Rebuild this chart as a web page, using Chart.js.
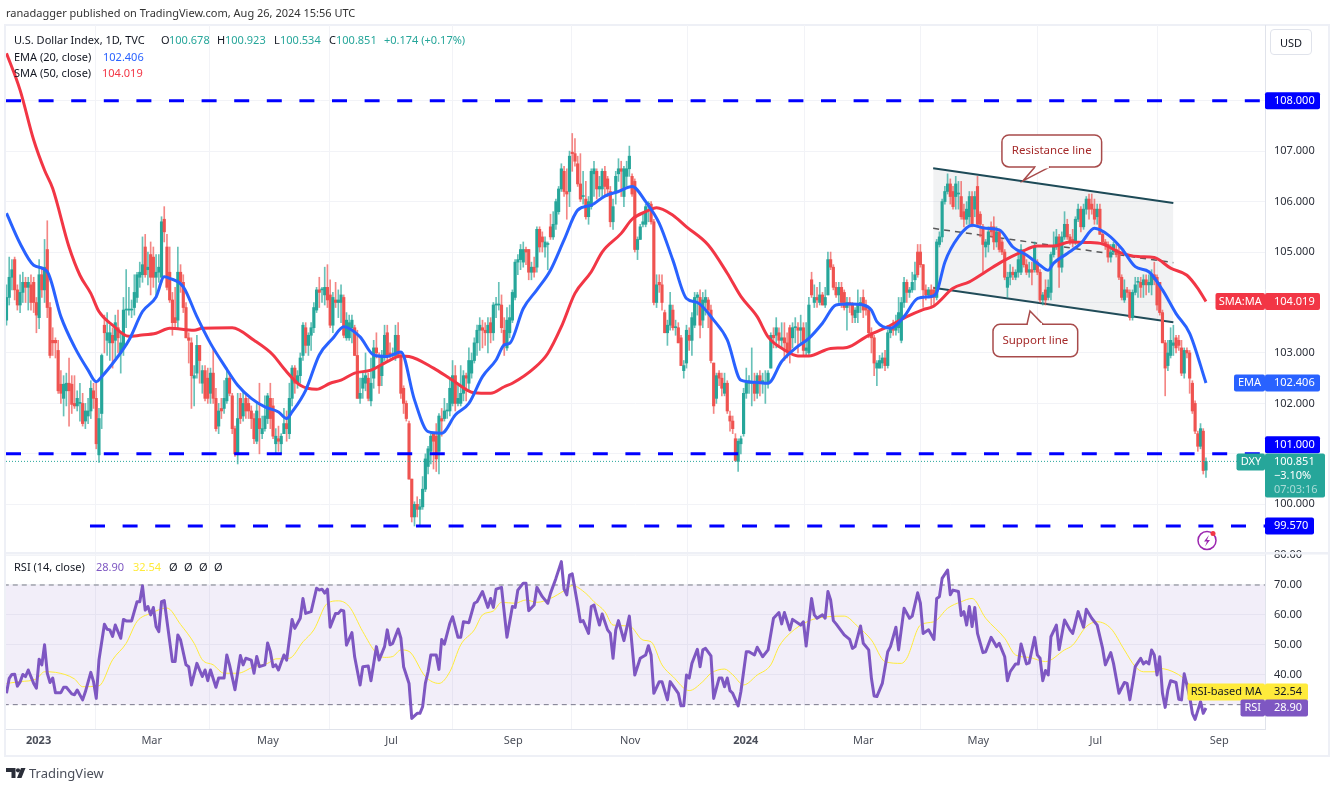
<!DOCTYPE html>
<html>
<head>
<meta charset="utf-8">
<title>U.S. Dollar Index</title>
<script src="https://cdn.jsdelivr.net/npm/chart.js@4/dist/chart.umd.js"></script>
<style>
  html, body { margin: 0; padding: 0; background: #fff; }
  body { width: 1338px; height: 788px; position: relative; overflow: hidden; font-family: "Noto Sans", sans-serif; color: #131722; }
  canvas { position: absolute; left: 0; top: 0; }
  .t { position: absolute; font-size: 11px; line-height: 14px; white-space: nowrap; }
  .usd { position: absolute; left: 1270px; top: 29px; width: 42px; height: 26px; line-height: 26px; border: 1px solid #e0e3eb; border-radius: 4px; text-align: center; font-size: 11px; box-sizing: border-box; }
  svg { position: absolute; left: 0; top: 0; pointer-events: none; }
</style>
</head>
<body>
<canvas id="chart" width="1338" height="788"></canvas>
<div class="t" style="left:6px;top:6px;color:#333">ranadagger published on TradingView.com, Aug 26, 2024 15:56 UTC</div>
<div id="legend"></div>
<div class="usd">USD</div>
<svg width="1338" height="788">
  <path d="M6 768h9.5v10h-4v-6H6z M21 768h4.5l-4 10H17z" fill="#2a2e39"/><circle cx="18" cy="770.3" r="2.1" fill="#2a2e39"/>
  <circle cx="1207" cy="540.5" r="9" fill="#fff" stroke="#9c27b0" stroke-width="1.5"/>
  <path d="M1209 535l-5 6.5h3l-2 5 5-6.5h-3z" fill="#9c27b0"/><circle cx="1213" cy="533.5" r="2.5" fill="#f23645"/>
</svg>
<div class="t" style="left:29px;top:765px;font-size:13px;line-height:16px;color:#4a4e59">TradingView</div>

<script>
// daily candles, bar 0 is mid Dec 2022, bar 441 is Aug 26 2024
const opens = [
  103.65,104.1,104.5,104.85,104.25,103.95,104.2,104.4,104.3,104.35,
  104.4,104,103.7,104.55,104.25,105.05,103.9,103.25,103.25,103.05,
  102.38,102.1,102.25,102.4,102.38,102,101.95,102,102,101.65,
  101.75,101.85,102.25,102.1,100.98,101.8,103.55,103.25,103.2,103.35,
  103.25,103.5,103,103.1,103.85,103.85,103.85,103.9,104.1,104.5,
  104.55,105.1,104.65,104.95,104.9,104.5,104.6,104.5,105.65,105.1,
  104.6,104.05,103.7,103.65,104.6,104.4,103.9,103.3,103.2,102.5,
  102.6,103.15,102.4,102.65,102.5,102.2,102.6,102.1,101.55,101.9,
  101.9,102.05,102.5,102.15,101.5,101,102.1,101.75,102.1,102,
  101.85,101.7,101.25,101.7,101.4,101.5,101.7,102.1,101.95,101.2,
  101.3,101.2,101.4,101.6,101.4,102.1,102.7,102.4,102.55,102.95,
  103.5,103.15,103.35,103.5,103.85,104.25,104.25,104.15,104.3,104.15,
  103.55,104.05,104,104,104.1,103.3,103.3,103.5,103.5,102.95,
  102.1,102.3,102.4,102.5,102.05,102.5,103.1,102.75,102.55,102.95,
  103.4,103,102.95,102.95,103.35,102.95,102.3,102,101.6,100.5,
  99.75,100,99.9,99.95,100.3,100.75,101.05,101.4,101.35,101.05,
  101.7,101.7,101.85,101.85,102,102.55,102,102,102.2,102.55,
  102.4,102.6,102.85,103.2,103.45,103.5,103.45,103.4,103.6,103.4,
  103.95,103.95,103.95,103.45,103.1,103.4,103.65,104.1,104.8,104.85,
  104.8,105.05,105.05,104.6,104.7,104.7,105.45,105.3,105.1,105.15,
  105.5,105.3,105.55,105.8,106.25,106.6,106.2,106.2,106.98,106.95,
  106.75,106.35,106.1,106.05,105.7,105.9,106.55,106.6,106.25,106.25,
  106.6,106.45,106.2,105.6,106.2,106.55,106.65,106.1,106.5,106.65,
  106.5,106.4,105.05,105.25,105.55,105.55,105.95,105.95,105.6,104,
  104.4,104.35,103.8,103.4,103.55,103.85,103.5,103.5,103.3,102.65,
  102.8,103.35,103.25,103.55,104.1,104.1,103.65,104,104.05,103.85,
  102.8,102.1,102.6,102.5,102.2,102.4,101.75,101.65,101.3,100.85,
  101.2,101.4,102.2,102.4,102.4,102.4,102.2,102.55,102.4,102.4,
  102.4,102.7,103.35,103.35,103.4,103.25,103.3,103.2,103.5,103.3,
  103.5,103.5,103.45,103.5,103.05,103,104.45,104,104.1,104,
  104.15,103.95,104.15,104.85,104.7,104.3,104.15,104.3,104.2,103.9,
  104,103.95,103.7,103.8,103.95,104.1,103.9,103.85,103.4,103.3,
  102.7,102.7,102.8,102.9,102.75,103.4,103.5,103.45,103.5,103.25,
  104,104.4,104.2,104.25,104.45,105,105,104.75,104.25,104.15,
  104.25,104.25,104.1,105.15,105.3,106,106.2,106.35,106.2,106.1,
  106.15,106.1,105.8,105.65,105.7,106.1,105.85,106.3,105.75,105.5,
  105.1,105.15,105.5,105.5,105.2,105.4,105.2,105,104.3,104.5,
  104.6,104.5,104.6,104.6,105,104.75,104.6,104.65,104.65,104.8,
  104.6,104.05,104.25,104.1,104.2,104.95,105.1,105.3,104.7,105.3,
  105.55,105.3,105.25,105.2,105.65,105.85,105.5,105.85,106.05,105.95,
  105.85,105.7,105.85,105.35,105.2,105.15,104.9,105,105.05,105,
  104.5,104.05,104.25,104.2,103.7,104.2,104.4,104.4,104.35,104.45,
  104.35,104.35,104.55,104.5,104.4,103.8,103.2,102.75,102.95,103.15,
  103.3,103.25,103.1,102.6,103.05,103,102.4,102,101.4,101.15,
  101.45,100.678
];
const closes = [
  104.1,104.5,104.65,104.25,103.95,104.2,104.4,104.3,104.4,104,
  104,103.75,104.55,104.25,104.7,103.9,102.95,103.2,103.2,102.25,
  102.2,102.38,102.4,102.25,101.98,101.95,102.1,102,101.6,101.85,
  101.85,102.3,102.1,101.2,101.7,102.95,103.4,103.4,103.4,103.2,
  103.6,103.3,103.2,103.85,103.85,103.85,103.85,104.2,104.55,104.6,
  104.75,104.55,104.7,104.5,104.5,104.6,104.7,105.6,105.4,104.3,
  104.05,103.6,103.6,104.6,104.4,103.9,103.3,103.25,102.55,102.55,
  103.15,102.85,102.65,102.1,102.1,102.6,102.1,101.5,101.85,101.85,
  102.1,102.5,102.2,101.5,101,101.7,101.7,102,101.85,101.85,
  101.7,101.3,101.85,101.5,101.5,101.75,102.15,101.7,101.35,101.35,
  101.25,101.35,101.6,101.5,102.1,102.7,102.4,102.55,102.9,103.55,
  103.15,103.35,103.5,103.9,104.25,104.2,104.25,104.3,104.05,103.55,
  104.1,104,104.05,104.15,103.35,103.65,103.6,103.65,102.95,102.1,
  102.2,102.5,102.55,102.1,102.4,103.1,103,102.35,102.95,103.35,
  102.95,102.95,102.95,103.35,102.95,102.2,102,101.7,100.5,99.75,
  100,99.9,99.95,100.3,100.9,101.1,101.35,101.25,100.9,101.75,
  101.65,101.85,101.85,102.3,102.55,102,102.1,102.2,102.55,102.5,
  102.85,102.85,103.2,103.45,103.55,103.45,103.4,103.55,103.4,103.95,
  103.95,103.95,103.5,103.15,103.65,103.7,104.2,104.8,104.85,105.05,
  105.05,105,104.6,104.7,104.6,105.45,105.1,105.2,105.2,105.15,
  105.3,105.55,106,106.25,106.65,106.2,106.15,106.9,106.95,106.8,
  106.35,106.05,106.1,105.7,106,106.6,106.65,106.25,106.3,106.6,
  106.3,106.25,105.6,105.9,106.5,106.65,106.6,106.65,106.65,106.9,
  106.15,105.05,105.25,105.5,105.6,105.9,105.95,105.6,104,104.35,
  104.35,104,103.4,103.55,103.95,103.5,103.5,103.2,102.75,102.75,
  103.45,103.25,103.7,104.1,104.15,103.55,104.05,104.1,103.85,102.85,
  101.95,102.55,102.5,102.3,102.4,101.85,101.65,101.5,100.87,101.25,
  101.3,102.2,102.4,102.45,102.4,102.2,102.55,102.4,102.45,102.4,
  102.6,103.35,103.3,103.5,103.25,103.3,103.2,103.05,103,103.5,
  103.5,103.45,103.5,103.05,103.1,103.95,104.15,104.1,104.05,104.15,
  103.95,104.1,104.85,104.7,104.3,104.15,104.3,104,103.9,104,
  103.95,103.75,103.85,103.95,104,103.85,103.85,103.4,103.3,102.8,
  102.8,102.85,102.9,102.75,103.4,103.5,103.45,103.6,103.8,104,
  104.4,104.2,104.25,104.4,104.55,104.55,104.75,104.25,104.15,104.25,
  104.1,104.1,105.2,105.3,106,106.2,106.35,106.1,105.9,106.35,
  106.15,105.7,105.65,105.85,106.1,105.55,106.1,105.55,105.55,105.15,
  105.2,105.4,105.4,105.2,105.4,105.05,105,104.5,104.5,104.6,
  104.55,104.6,104.85,105.05,104.75,104.6,104.65,104.6,105.1,104.6,
  104.05,104.15,104.05,104.3,104.95,105.1,105.3,104.7,105.3,105.55,
  105.3,105.2,105.2,105.65,105.85,105.5,105.85,106.05,105.85,105.85,
  105.65,105.85,105.35,105.2,105.15,104.9,105,105.15,104.95,104.5,
  104.1,104.25,104.2,103.7,104.2,104.35,104.4,104.3,104.45,104.35,
  104.4,104.55,104.45,103.95,103.8,103.2,102.7,103,103.25,103.2,
  103.1,103.15,102.6,103.05,103,102.5,101.85,101.45,101.15,101.5,
  100.67,100.851
];
const highs = [
  104.35,104.9,104.85,104.9,104.35,104.55,104.6,104.5,104.5,104.55,
  104.5,104.1,104.85,104.7,105.25,105.62,104,103.5,103.3,103.25,
  102.65,102.55,102.6,102.9,102.55,102.55,102.25,102.4,102.2,102,
  102.1,102.45,102.4,102.4,101.9,102.98,103.75,103.8,103.55,103.5,
  103.75,103.85,103.4,104.1,104.65,104.3,104.05,104.55,104.6,104.8,
  105.3,105.35,105,105.2,105.1,104.95,104.95,105.7,105.9,105.35,
  105.1,104.2,104.3,105.1,104.75,104.55,104,103.4,103.3,102.75,
  103.35,103.15,102.75,102.75,102.7,102.7,103.1,102.3,102,102.1,
  102.45,102.7,102.6,102.2,101.55,102.2,102.2,102.25,102.2,102.1,
  101.95,101.8,102,102.4,101.75,102.15,102.2,102.4,102.1,101.5,
  101.55,101.4,101.9,101.85,102.4,102.75,102.75,102.65,103,103.6,
  103.6,103.4,103.6,104,104.3,104.5,104.3,104.7,104.75,104.45,
  104.2,104.4,104.25,104.35,104.15,103.8,103.75,103.75,103.55,103.45,
  102.5,102.6,103,102.6,102.9,103.25,103.4,103,103.05,103.55,
  103.55,103.2,103.1,103.55,103.6,103,102.35,102.05,101.65,100.5,
  100.05,100.15,100.1,100.55,101,101.15,101.4,101.4,101.6,101.8,
  101.9,102.1,102,102.5,102.85,102.75,102.4,102.75,102.65,102.6,
  103.1,103,103.3,103.55,103.7,103.65,103.6,103.7,103.7,104,
  104.1,104.4,104.15,103.7,103.9,103.95,104.25,104.85,104.95,105.15,
  105.2,105.1,105.05,104.8,104.9,105.5,105.5,105.4,105.3,105.2,
  105.75,105.8,106.05,106.3,106.75,106.7,106.65,107,107.35,107.25,
  106.9,106.95,106.6,106.4,106.1,106.65,106.8,106.65,106.5,106.65,
  106.7,106.5,106.3,106.05,106.6,106.85,106.8,106.7,106.8,107.1,
  106.55,106.45,105.3,105.55,105.75,105.95,106,106,105.65,104.55,
  104.55,104.55,103.85,103.65,104.2,103.95,103.65,103.6,103.35,102.85,
  103.55,103.5,103.8,104.2,104.2,104.25,104.2,104.25,104.1,103.95,
  102.8,102.6,102.65,102.6,102.6,102.45,101.85,101.75,101.4,101.3,
  101.35,102.3,102.7,102.55,103.1,102.6,102.6,102.65,102.6,102.65,
  102.65,103.4,103.5,103.7,103.5,103.6,103.6,103.4,103.55,103.6,
  103.7,103.6,103.75,103.6,103.6,104.1,104.6,104.35,104.3,104.4,
  104.2,104.3,105,105,104.75,104.4,104.4,104.4,104.25,104.1,
  104.1,104,103.9,104.25,104.1,104.25,104.05,103.9,103.5,103.35,
  102.85,102.95,103,103.05,103.45,103.55,103.65,103.75,104.1,104.1,
  104.5,104.45,104.3,104.6,104.8,105.15,105.15,104.75,104.35,104.3,
  104.35,104.3,105.25,105.4,106.05,106.3,106.55,106.45,106.3,106.5,
  106.4,106.4,105.95,106,106.2,106.2,106.2,106.5,105.8,105.55,
  105.25,105.5,105.6,105.7,105.5,105.45,105.25,105.05,104.6,104.75,
  104.7,104.65,105,105.15,105.05,104.85,104.8,104.8,105.2,104.85,
  104.65,104.2,104.45,104.45,105,105.4,105.45,105.35,105.4,105.8,
  105.65,105.35,105.45,105.7,105.95,105.9,105.95,106.1,106.15,106.15,
  106.05,105.95,105.95,105.4,105.25,105.2,105.15,105.2,105.15,105.1,
  104.55,104.45,104.3,104.25,104.25,104.5,104.5,104.5,104.55,104.55,
  104.55,104.65,104.8,104.55,104.4,103.85,103.25,103.25,103.5,103.55,
  103.35,103.35,103.25,103.1,103.1,103.05,102.45,102.05,101.45,101.6,
  101.5,100.923
];
const lows = [
  103.55,103.95,104.25,104.05,103.85,103.8,104,104,103.85,103.85,
  103.8,103.4,103.48,104.1,104,103.7,102.9,102.95,102.9,102.2,
  102,101.75,101.95,101.55,101.8,101.9,101.85,101.65,101.55,101.5,
  101.6,101.7,101.9,101.1,100.83,101.5,103,102.95,102.85,102.7,
  102.9,103,102.6,102.95,103.5,103.75,103.7,103.75,104,104.3,
  104.4,104.5,104.35,104.15,104.3,104.1,104.4,104.4,105.2,104.25,
  104,103.35,103.5,103.5,104.2,103.8,103.3,102.8,101.9,101.95,
  102.5,102.4,102.2,102.05,102,102,102,101.45,101.4,101.7,
  101.8,102,102.15,101.4,100.95,100.8,101.6,101.65,101.7,101.7,
  101.5,101.2,101.2,101,101.3,101.45,101.6,101.5,101.3,101,
  101.05,101,101.4,101.25,101.3,101.95,102.2,102.3,102.4,102.85,
  103,102.95,103.05,103.4,103.8,103.9,104,103.95,103.9,103.5,
  103.4,103.9,103.7,103.6,103.3,103.25,103.25,103.2,102.95,102.1,
  102,102.1,102.25,102.05,101.95,102.3,102.9,102.2,102.35,102.85,
  102.85,102.9,102.9,102.85,102.9,102.1,101.8,101.65,100.5,99.65,
  99.57,99.75,99.57,99.9,100.25,100.6,100.8,100.7,100.65,100.6,
  101.35,101.65,101.7,101.75,101.95,101.85,101.95,101.95,102.05,102.05,
  102.25,102.5,102.8,102.95,103.05,103.1,103.15,103,103.2,103.25,
  103.7,103.85,103.4,102.95,103.05,103.3,103.6,104.05,104.55,104.65,
  104.7,104.75,104.45,104.45,104.5,104.6,105,105,104.9,104.65,
  105.25,105.25,105.45,105.75,106.2,106.1,105.65,105.9,106.6,106.7,
  106.3,106,105.95,105.65,105.55,105.85,106.1,106.05,106.1,106.1,
  106.1,106.1,105.5,105.45,105.95,106.4,106.1,105.9,106.3,106.5,
  106.1,105,104.85,105.25,105.5,105.5,105.6,105.55,103.95,103.9,
  104.2,103.85,103.4,103.15,103.45,103.45,103.35,103.2,102.75,102.5,
  102.7,103.05,102.95,103.5,103.75,103.3,103.5,103.75,103.5,102.8,
  101.8,102,102.35,102.15,102.15,101.8,101.45,101.4,100.85,100.65,
  101,101.35,102.1,102.2,101.95,102.05,102.1,102.15,102.2,102,
  102.3,102.7,103.1,103.1,103.15,103.1,102.85,102.9,102.8,103.1,
  103.2,103,103.2,102.95,102.95,102.95,104.1,103.9,103.9,103.95,
  103.95,103.9,104.15,104.65,104.25,104.1,104,103.9,103.85,103.45,
  103.8,103.6,103.6,103.6,103.8,103.7,103.75,103.3,103,102.55,
  102.35,102.7,102.7,102.65,102.7,103.3,103.35,103.35,103.4,103.2,
  103.9,104,104.1,104.2,104.25,104.5,104.7,103.9,104.05,104.1,
  103.9,103.95,104.05,105.1,105.2,105.95,106.15,105.95,105.85,105.85,
  105.85,105.65,105.5,105.55,105.55,105.5,105.7,105.5,105.3,104.6,
  104.9,105,105.3,105.05,105.1,105,104.95,104.45,104.1,104.35,
  104.45,104.45,104.5,104.55,104.7,104.55,104.5,104.35,104.6,104.55,
  104,103.95,103.95,104.05,104.05,104.9,105.05,104.3,104.6,105.25,
  105.25,105.15,105.1,105.15,105.6,105.4,105.45,105.75,105.65,105.75,
  105.55,105.55,105.35,105.15,105.05,104.8,104.8,104.95,104.9,104.45,
  104.05,104,104.1,103.65,103.65,104.15,104.1,104.1,104.1,104.15,
  104.2,104.15,104.35,103.85,103.75,103.2,102.15,102.65,102.9,102.95,
  103,103.05,102.55,102.5,102.9,102.2,101.8,101.4,101.05,101.1,
  100.6,100.534
];

// moving averages at these bars
const emaBars = [0,5,10,15,20,25,30,33,35,40,45,50,55,58,60,65,70,75,80,85,90,95,100,103,105,110,115,120,124,
  130,135,140,145,150,155,160,165,170,175,180,183,185,190,195,200,205,210,215,220,225,230,235,240,245,
  250,254,260,265,270,275,280,285,290,295,300,305,310,315,318,320,325,330,335,340,342,
  345,350,355,360,365,370,375,380,383,385,390,395,400,405,410,415,420,425,430,435,441];
const emaValues = [105.77,105.17,104.74,104.61,103.72,103.12,102.66,102.43,102.53,102.86,103.25,103.82,104.11,104.51,104.48,104.31,103.72,103.19,102.76,102.36,102.1,101.93,101.83,101.7,101.83,102.26,102.96,103.29,103.52,
  103.32,102.96,102.93,103.02,102.07,101.44,101.41,101.77,102,102.53,102.86,103.16,103.19,103.88,104.25,104.64,105.24,105.83,105.93,106.11,106.2,106.3,106,105.57,104.84,
  104.08,104,103.65,103.26,102.46,102.42,102.4,102.83,103.09,103.29,103.59,103.95,103.97,103.95,103.85,103.62,103.49,103.72,104.08,104.12,104.2,
  104.8,105.3,105.53,105.47,105.44,105.1,104.94,104.74,104.64,104.78,104.97,105.17,105.47,105.34,105.07,104.71,104.61,104.25,103.78,103.39,102.406];
const smaBars = [0,5,10,14,17,23,27,31,34,39,45,49,55,60,69,72,83,91,98,102,108,114,119,123,
  128,134,140,145,148,157,164,172,178,183,186,194,199,204,209,215,219,226,230,235,239,245,250,258,265,270,276,280,286,291,295,303,309,316,324,331,337,341,
  348,354,360,366,373,379,385,391,397,403,409,416,422,428,434,438,441];
const smaValues = [108.94,108.21,107.22,106.62,106.26,105.1,104.54,104.18,103.82,103.55,103.33,103.35,103.39,103.49,103.45,103.49,103.5,103.25,102.96,102.69,102.36,102.28,102.4,102.46,
  102.6,102.66,102.83,102.94,102.93,102.7,102.46,102.21,102.2,102.33,102.4,102.7,102.99,103.52,104.18,104.61,105,105.37,105.65,105.8,105.88,105.73,105.5,105.14,104.58,104.12,103.72,103.32,103.06,102.94,102.94,103.09,103.11,103.32,103.52,103.72,103.86,103.93,
  104.28,104.41,104.61,104.81,105,105.12,105.12,105.2,105.19,105.16,105,104.91,104.89,104.68,104.54,104.28,104.019];

// RSI pane
const rsiBars = [0,1,2,3,4,5,6,7,8,10,11,12,13,14,15,16,17,18,20,21,22,24,25,26,28,29,31,32,33,34,
  36,37,38,39,40,42,43,44,46,48,49,50,51,52,53,54,55,56,57,58,61,62,63,64,66,67,68,70,72,73,
  74,75,77,78,80,81,82,84,86,87,88,90,91,92,93,95,96,97,98,99,100,102,103,105,106,108,109,110,112,114,
  115,116,117,118,119,121,122,123,124,125,127,128,130,131,133,134,136,137,139,140,141,142,144,145,146,148,149,151,152,153,
  154,155,156,158,159,160,161,163,164,166,167,168,170,172,173,175,177,178,179,180,182,184,186,187,188,190,191,192,
  194,195,197,199,200,202,204,205,206,207,208,210,211,212,214,215,216,218,219,221,222,223,224,225,227,229,231,233,235,236,
  237,238,240,241,243,244,247,248,249,250,251,252,254,255,256,257,259,260,262,263,264,265,266,267,269,270,272,273,275,276,
  278,280,282,284,285,286,288,289,292,293,294,296,297,298,300,301,302,303,304,305,308,310,311,312,314,315,317,318,319,320,
  322,324,325,327,328,330,332,333,335,336,337,339,341,342,343,344,346,347,348,350,351,352,353,354,355,356,357,359,360,362,
  364,365,367,368,369,371,372,373,375,376,378,379,380,381,382,383,384,386,387,389,391,392,394,396,397,399,401,403,404,406,
  407,409,411,412,413,415,417,418,419,420,421,422,423,424,425,426,427,428,430,431,432,433,435,436,437,439,440,441];
const rsiValues = [33.8,38.8,40.1,40.2,36.2,37.6,40.1,39.4,41.6,37.1,35.5,45.2,43.3,50,40.5,37.4,38.9,34,34,35.8,35.8,33.6,33.3,34.9,31.6,34.3,40.8,37.7,32.1,44.9,
  56.9,55.2,55,52.8,56.6,52.2,58.5,58,58,64.4,64.4,69.7,61.6,62.8,60,62.5,56.1,54.4,64.4,64.8,44.4,44.4,53.3,51.6,43.3,42.7,36.6,43.8,39.4,41.6,
  38,41.6,35.8,38.9,38.9,46.6,43.3,35,46.4,43.3,45.5,44.9,40.5,46.1,42.7,43.3,50.6,47.8,42.7,43.3,41.6,46.6,44.9,58.5,55.5,58.9,65.5,60.5,61.1,68.9,
  68.3,68.6,67.3,68.6,55.9,60.5,60.5,61.6,61.3,49.9,54.1,46,36.6,42.7,42.9,38,49.4,44.9,49.4,55,50,50.5,55.3,52.2,42.7,37.1,25.4,27.1,27.1,29.3,
  37.1,41,46.6,46.6,41.8,51.8,50.2,57.2,59.4,52.5,52.5,57.7,57.4,63.9,64.4,67.8,62.5,65.5,62.5,68.6,69.2,52.5,62.8,62.5,68.3,70.6,70.6,61.4,
  63.3,69.2,66.1,63.9,67.2,72.2,77.8,68.6,66.7,73.3,73.7,63.3,57.7,58.1,53.8,62.8,63.3,56.6,60.3,55,53.8,45.5,55,58.1,51.4,59.6,39.9,45.5,46.6,49.7,
  46.6,33.8,37.7,37.7,31.6,37.7,33.8,29.6,29.6,39.9,38.9,43.8,48.5,42.7,48.3,48.8,46.3,32.1,38.9,38.9,36,38.9,34.7,33.8,29.6,34.3,47.7,47.7,46.6,49.2,
  46,48.3,58.9,60.8,57,60.8,55,58.5,56.6,57.7,49.6,65.5,60,58.9,60,58.9,67.8,65,58.1,57,53.3,51.8,48.8,49.4,56.3,50.5,48.3,38.8,32.9,32.7,
  37.1,47.7,49.4,55.9,48.3,62.2,58.9,59.6,67.4,63.9,53.8,55,51.8,65.5,66.1,72.2,75,66.7,68.3,67.8,59.8,61.1,56.6,62.8,56.1,62.5,53.8,47.4,47.7,52.5,
  49.4,50.5,46,38,41,43.6,43.6,50.3,43.6,44,52.5,46.6,45.5,38,41.4,39.9,52.7,56.6,48.4,58.3,55,53.8,61.1,55.9,61.9,58.9,56.6,48.8,43.3,47.4,
  43.8,33.8,37.4,37.1,31.6,42.7,45.5,43.6,44.4,43.6,48.3,46.6,39.9,46,33.8,29.1,34.9,38,37.4,31.8,31.6,40.3,32.7,27.1,25.1,31,27.1,28.9];
const rsiMaBars = [0,5,11,14,18,25,28,34,39,44,48,53,59,64,69,72,76,80,85,91,96,99,104,109,113,118,122,126,131,136,139,142,145,148,154,159,
  163,167,172,175,179,182,187,191,195,200,205,208,213,216,220,223,229,234,237,241,245,251,256,259,264,267,271,276,281,284,288,295,302,308,313,318,323,329,
  331,336,341,346,351,355,360,367,371,376,382,389,392,397,401,406,411,415,418,423,424,430,434,437,441];
const rsiMaValues = [37.1,37.7,38.6,41,40.8,38.6,36,36.3,45,50.5,57.8,60.5,62.3,56.8,50.5,45,43.3,40.5,40.5,42.7,43.8,45.3,45.5,51,55,63.9,64.7,62.8,54.4,47.2,45.8,46.1,48.3,47.8,39.4,37.1,
  41,50,55,60,61.3,64.2,63.9,65,64.2,65.5,68.1,69.8,67.2,64.4,61.1,56.6,56.3,51.6,51,43.3,39.4,34.7,37.7,40.5,41.9,40,36.6,39.9,43.3,49.4,53.8,58,59.4,59.6,56.1,51.6,44.4,43.8,
  45.5,56.6,57.7,62.2,64.4,65.5,58.9,52.2,46.6,45.8,44.4,48.3,49.9,56.1,57.7,55.5,48.3,42.7,41,41,42.1,40.5,37.7,33.8,32.54];

// channel drawn on the chart
const channelBars = [340.7, 429];
const channelTop = [106.66, 105.97];
const channelMid = [105.47, 104.79];
const channelBottom = [104.29, 103.61];

// axis labels
const xTickBars = [11.8, 53.4, 96.1, 141.6, 186.3, 229.3, 271.8, 315, 357.3, 400.5, 445.9];
const xTickLabels = ['2023', 'Mar', 'May', 'Jul', 'Sep', 'Nov', '2024', 'Mar', 'May', 'Jul', 'Sep'];
const priceTicks = [100, 102, 103, 104, 105, 106, 107];
const priceGrid = [100, 101, 102, 103, 104, 105, 106, 107, 108];
const rsiTicks = [40, 50, 60, 70, 80];

const UP = '#26a69a', DOWN = '#ef5350', BLUE = '#2962ff', RED = '#f23645', PURPLE = '#7e57c2', YEL = '#ffeb3b';
const FONT = '"Noto Sans", sans-serif';
const LAST_BAR = 462.7;

const pts = (xs, ys) => xs.map((x, i) => ({ x, y: ys[i] }));
const hline = (v, from, to) => [{ x: from, y: v }, { x: to, y: v }];
const candleCol = closes.map((c, i) => (c >= opens[i] ? UP : DOWN));
const wickCol = closes.map((c, i) => (c >= opens[i] ? 'rgba(38,166,154,.7)' : 'rgba(239,83,80,.7)'));

function line(data, extra) {
  return Object.assign({ type: 'line', data, yAxisID: 'y', pointRadius: 0, tension: 0, fill: false, borderJoinStyle: 'round' }, extra);
}

// legend text
const legendItems = [
  ['U.S. Dollar Index, 1D, TVC', 14, 33, '#131722'],
  ['O', 161, 33, '#131722'], ['100.678', 169, 33, UP],
  ['H', 217, 33, '#131722'], ['100.923', 225, 33, UP],
  ['L', 274, 33, '#131722'], ['100.534', 280, 33, UP],
  ['C', 329, 33, '#131722'], ['100.851', 336, 33, UP],
  ['+0.174 (+0.17%)', 384, 33, UP],
  ['EMA (20, close)', 14, 50, '#131722'], ['102.406', 103, 50, BLUE],
  ['SMA (50, close)', 14, 66, '#131722'], ['104.019', 102, 66, RED],
  ['RSI (14, close)', 14, 560, '#131722'], ['28.90', 96, 560, PURPLE], ['32.54', 133, 560, YEL],
  ['Ø', 169, 560, '#131722'], ['Ø', 184, 560, '#131722'], ['Ø', 199, 560, '#131722'], ['Ø', 214, 560, '#131722'],
];
document.getElementById('legend').innerHTML = legendItems.map(([s, x, y, c]) =>
  `<div class="t" style="left:${x}px;top:${y}px;color:${c}">${s}</div>`).join('');

// pane frame and the separator between price and RSI
const framePlugin = {
  id: 'frame',
  beforeDraw(chart) {
    const { ctx } = chart;
    ctx.save();
    ctx.strokeStyle = '#eef0f6';
    ctx.lineWidth = 2;
    ctx.strokeRect(5, 25, 1324, 731);
    ctx.restore();
  },
  afterDatasetsDraw(chart) {
    const { ctx, chartArea } = chart;
    ctx.save();
    ctx.fillStyle = '#eef0f6';
    ctx.fillRect(chartArea.left, 552, 1329 - chartArea.left, 2.5);
    ctx.restore();
  },
};

function tag(ctx, x, y, w, h, bg) {
  ctx.fillStyle = bg;
  ctx.beginPath();
  ctx.roundRect(x, y, w, h, 2);
  ctx.fill();
}

// value tags on the right axis
const priceTags = [
  { v: 108, s: '108.000', bg: '#0000ff', w: 55, dy: 0 },
  { v: 104.019, s: '104.019', bg: RED, w: 55, dy: 0, name: 'SMA:MA', nw: 49.5 },
  { v: 102.406, s: '102.406', bg: BLUE, w: 55, dy: 0, name: 'EMA', nw: 31 },
  { v: 101, s: '101.000', bg: '#0000ff', w: 55, dy: -9 },
  { v: 99.57, s: '99.570', bg: '#0000ff', w: 49, dy: 0 },
];
const rsiTags = [
  { v: 32.54, s: '32.54', bg: YEL, col: '#131722', w: 43, dy: -5, name: 'RSI-based MA', nw: 77.5 },
  { v: 28.9, s: '28.90', bg: PURPLE, col: '#fff', w: 43, dy: 0, name: 'RSI', nw: 24.5 },
];

// speech bubbles, anchored on the tip they point at
const callouts = [
  { s: 'Resistance line', bar: 373.7, price: 106.41, box: [-21, -46, 99.7, 32], base: [12, 27, -14] },
  { s: 'Support line', bar: 376.3, price: 103.83, box: [-37, 13.3, 84.7, 32.4], base: [-3, 13, 13.3] },
];

const tagsPlugin = {
  id: 'tags',
  afterDraw(chart) {
    const { ctx, chartArea, scales } = chart;
    const R = chartArea.right;
    ctx.save();
    ctx.textBaseline = 'middle';
    ctx.font = '11px ' + FONT;

    const drawTag = (t, scale) => {
      const cy = scale.getPixelForValue(t.v) + t.dy;
      const col = t.col || '#fff';
      if (t.name) {
        tag(ctx, R - t.nw, cy - 8.5, t.nw, 17, t.bg);
        ctx.fillStyle = col;
        ctx.textAlign = 'center';
        ctx.fillText(t.name, R - t.nw / 2, cy);
      }
      tag(ctx, R, cy - 8.5, t.w, 17, t.bg);
      ctx.fillStyle = col;
      ctx.textAlign = 'left';
      ctx.fillText(t.s, R + 9, cy);
    };
    priceTags.forEach(t => drawTag(t, scales.y));
    rsiTags.forEach(t => drawTag(t, scales.rsi));

    // last price block
    const ly = scales.y.getPixelForValue(closes[closes.length - 1]);
    tag(ctx, R - 28.5, ly - 8, 28.5, 17, UP);
    tag(ctx, R, ly - 8, 60, 44, UP);
    ctx.fillStyle = '#fff';
    ctx.textAlign = 'center';
    ctx.fillText('DXY', R - 14, ly);
    ctx.textAlign = 'left';
    ctx.fillText('100.851', R + 9, ly);
    ctx.fillText('−3.10%', R + 9, ly + 14);
    ctx.fillStyle = 'rgba(255,255,255,.6)';
    ctx.fillText('07:03:16', R + 9, ly + 28);

    // callouts
    callouts.forEach(c => {
      const tx = scales.x.getPixelForValue(c.bar), ty = scales.y.getPixelForValue(c.price);
      const [bx, by, bw, bh] = c.box;
      const x0 = tx + bx, y0 = ty + by;
      const edge = ty + c.base[2];
      ctx.beginPath();
      ctx.roundRect(x0, y0, bw, bh, 7);
      ctx.fillStyle = '#fff';
      ctx.strokeStyle = '#a84b4b';
      ctx.lineWidth = 1.5;
      ctx.fill();
      ctx.stroke();
      // pointer
      ctx.beginPath();
      ctx.moveTo(tx + c.base[0], edge);
      ctx.lineTo(tx, ty);
      ctx.lineTo(tx + c.base[1], edge);
      ctx.fill();
      ctx.stroke();
      ctx.fillStyle = '#fff';
      ctx.fillRect(tx + c.base[0] + 1, edge - 1.5, c.base[1] - c.base[0] - 2, 3);
      ctx.fillStyle = '#a52a2a';
      ctx.textAlign = 'center';
      ctx.font = '11.5px ' + FONT;
      ctx.fillText(c.s, x0 + bw / 2, y0 + bh / 2);
      ctx.font = '11px ' + FONT;
    });
    ctx.restore();
  },
};

new Chart(document.getElementById('chart'), {
  data: {
    datasets: [
      // RSI band and its dashed bounds
      line(hline(70, -1, LAST_BAR), { yAxisID: 'rsi', order: 30, borderColor: '#787b86', borderWidth: 1, borderDash: [5, 4], fill: '+1', backgroundColor: 'rgba(126,87,194,.1)' }),
      line(hline(30, -1, LAST_BAR), { yAxisID: 'rsi', order: 30, borderColor: '#787b86', borderWidth: 1, borderDash: [5, 4] }),
      // channel
      line(pts(channelBars, channelTop), { order: 25, borderColor: '#1d4a57', borderWidth: 2, fill: { target: '+1' }, backgroundColor: 'rgba(120,123,134,.1)' }),
      line(pts(channelBars, channelBottom), { order: 25, borderColor: '#1d4a57', borderWidth: 2 }),
      line(pts(channelBars, channelMid), { order: 25, borderColor: '#555', borderWidth: 1.5, borderDash: [6, 5] }),
      // candles
      { type: 'bar', yAxisID: 'y', order: 21, grouped: false, barThickness: 1, backgroundColor: wickCol,
        data: highs.map((h, i) => ({ x: i, y: [lows[i], h] })) },
      { type: 'bar', yAxisID: 'y', order: 20, grouped: false, barThickness: 2.5, minBarLength: 1, backgroundColor: candleCol,
        data: opens.map((o, i) => ({ x: i, y: [o, closes[i]] })) },
      // levels
      line(hline(108, -0.18, LAST_BAR), { order: 5, borderColor: '#0000ff', borderWidth: 3, borderDash: [15, 17.6] }),
      line(hline(101, -0.18, LAST_BAR), { order: 5, borderColor: '#0000ff', borderWidth: 3, borderDash: [15, 17.6] }),
      line(hline(99.57, 30.7, LAST_BAR), { order: 5, borderColor: '#0000ff', borderWidth: 3, borderDash: [15, 17.6] }),
      line(hline(closes[closes.length - 1], -0.18, LAST_BAR), { order: 6, borderColor: UP, borderWidth: 1, borderDash: [1, 2] }),
      // averages
      line(pts(smaBars, smaValues), { order: 3, borderColor: RED, borderWidth: 3, cubicInterpolationMode: 'monotone' }),
      line(pts(emaBars, emaValues), { order: 2, borderColor: BLUE, borderWidth: 3, cubicInterpolationMode: 'monotone' }),
      // RSI lines
      line(pts(rsiMaBars, rsiMaValues), { yAxisID: 'rsi', order: 2, borderColor: YEL, borderWidth: 1, cubicInterpolationMode: 'monotone' }),
      line(pts(rsiBars, rsiValues), { yAxisID: 'rsi', order: 1, borderColor: PURPLE, borderWidth: 3 }),
    ],
  },
  plugins: [framePlugin, tagsPlugin],
  options: {
    responsive: false,
    animation: false,
    devicePixelRatio: 1,
    layout: { padding: { left: 6, right: 9, top: 25, bottom: 32 } },
    plugins: { legend: { display: false }, tooltip: { enabled: false } },
    scales: {
      x: {
        type: 'linear', min: -0.18, max: LAST_BAR, offset: false,
        grid: { color: '#f2f3f7', drawTicks: false },
        border: { color: '#e0e3eb' },
        afterFit(s) { s.height = 26.5; },
        afterBuildTicks(s) { s.ticks = xTickBars.map(value => ({ value })); },
        ticks: {
          autoSkip: false, maxRotation: 0, padding: 5, color: '#4a4e59',
          font: ctx => ({ family: FONT, size: 11, weight: /^20/.test(xTickLabels[ctx.index]) ? 'bold' : 'normal' }),
          callback: (v, i) => xTickLabels[i],
        },
      },
      y: {
        position: 'right', stack: 'panes', stackWeight: 528, weight: 1, min: 99.035, max: 109.5,
        grid: { color: '#f2f3f7', drawTicks: false },
        border: { color: '#e0e3eb' },
        afterFit(s) { s.width = 64; },
        afterBuildTicks(s) { s.ticks = priceGrid.map(value => ({ value })); },
        ticks: {
          padding: 9, color: '#2a2e39', font: { family: FONT, size: 11 },
          callback: v => (priceTicks.includes(v) ? v.toFixed(3) : ''),
        },
      },
      rsi: {
        position: 'right', stack: 'panes', stackWeight: 176.5, weight: 2, min: 21.7, max: 80.69,
        grid: { color: '#f2f3f7', drawTicks: false },
        border: { color: '#e0e3eb' },
        afterFit(s) { s.width = 64; },
        afterBuildTicks(s) { s.ticks = rsiTicks.map(value => ({ value })); },
        ticks: {
          padding: 9, color: '#2a2e39', font: { family: FONT, size: 11 },
          callback: v => v.toFixed(2),
        },
      },
    },
  },
});
</script>
</body>
</html>
